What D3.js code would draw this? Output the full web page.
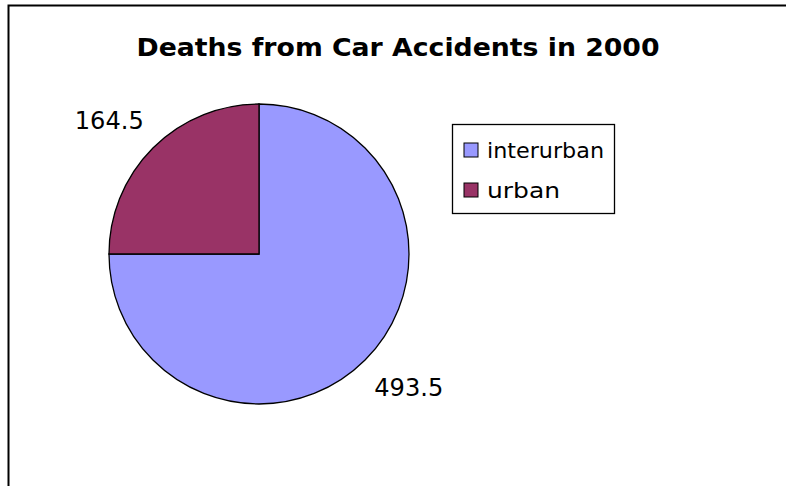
<!DOCTYPE html>
<html>
<head>
<meta charset="utf-8">
<script src="https://cdn.jsdelivr.net/npm/d3@7"></script>
<style>
  body { margin: 0; background: #fff; }
  text { font-family: "DejaVu Sans", Verdana, sans-serif; }
</style>
</head>
<body>
<script>
var categories = ["interurban", "urban"];
var values = [493.5, 164.5];
var colors = ["#9999FF", "#993366"];
var title = "Deaths from Car Accidents in 2000";

var svg = d3.select("body")
  .append("svg")
    .attr("width", 786)
    .attr("height", 486);

// frame (only top and left edges show)
svg.append("path")
  .attr("d", "M8.5,486 L8.5,5.5 L786,5.5")
  .attr("fill", "none")
  .attr("stroke", "#000")
  .attr("stroke-width", 2);

svg.append("text")
  .attr("x", 398)
  .attr("y", 56)
  .attr("text-anchor", "middle")
  .attr("font-size", 25)
  .attr("font-weight", "bold")
  .attr("textLength", 523)
  .attr("lengthAdjust", "spacingAndGlyphs")
  .text(title);

var cx = 259, cy = 254, r = 150;
var pie = d3.pie().sort(null)(values);
var arc = d3.arc().innerRadius(0).outerRadius(r);

var g = svg.append("g").attr("transform", "translate(" + cx + "," + cy + ")");
g.selectAll("path")
  .data(pie)
  .enter().append("path")
    .attr("d", arc)
    .attr("fill", function(d, i) { return colors[i]; })
    .attr("stroke", "#000")
    .attr("stroke-width", 1.3);

// value labels just outside the rim
var labelArc = d3.arc().innerRadius(r + 13).outerRadius(r + 13);
g.selectAll("text")
  .data(pie)
  .enter().append("text")
    .each(function(d) {
      var p = labelArc.centroid(d);
      d3.select(this)
        .attr("x", p[0])
        .attr("y", p[1] < 0 ? p[1] - 10 : p[1] + 27)
        .attr("text-anchor", p[0] < 0 ? "end" : "start");
    })
    .attr("font-size", 24)
    .attr("textLength", 69)
    .attr("lengthAdjust", "spacingAndGlyphs")
    .text(function(d) { return d.data; });

// legend
var legend = svg.append("g").attr("transform", "translate(452,124)");
legend.append("rect")
  .attr("x", 0.5).attr("y", 0.5)
  .attr("width", 162).attr("height", 89)
  .attr("fill", "#fff")
  .attr("stroke", "#000")
  .attr("stroke-width", 1.3);

var legendWidths = [117, 73];
var item = legend.selectAll("g.item")
  .data(categories)
  .enter().append("g")
    .attr("class", "item")
    .attr("transform", function(d, i) { return "translate(12," + (19 + i * 40) + ")"; });
item.append("rect")
  .attr("width", 14).attr("height", 14)
  .attr("fill", function(d, i) { return colors[i]; })
  .attr("stroke", "#000");
item.append("text")
  .attr("x", 23)
  .attr("y", 7)
  .attr("dy", "0.35em")
  .attr("font-size", 22)
  .attr("textLength", function(d, i) { return legendWidths[i]; })
  .attr("lengthAdjust", "spacingAndGlyphs")
  .text(function(d) { return d; });
</script>
</body>
</html>
